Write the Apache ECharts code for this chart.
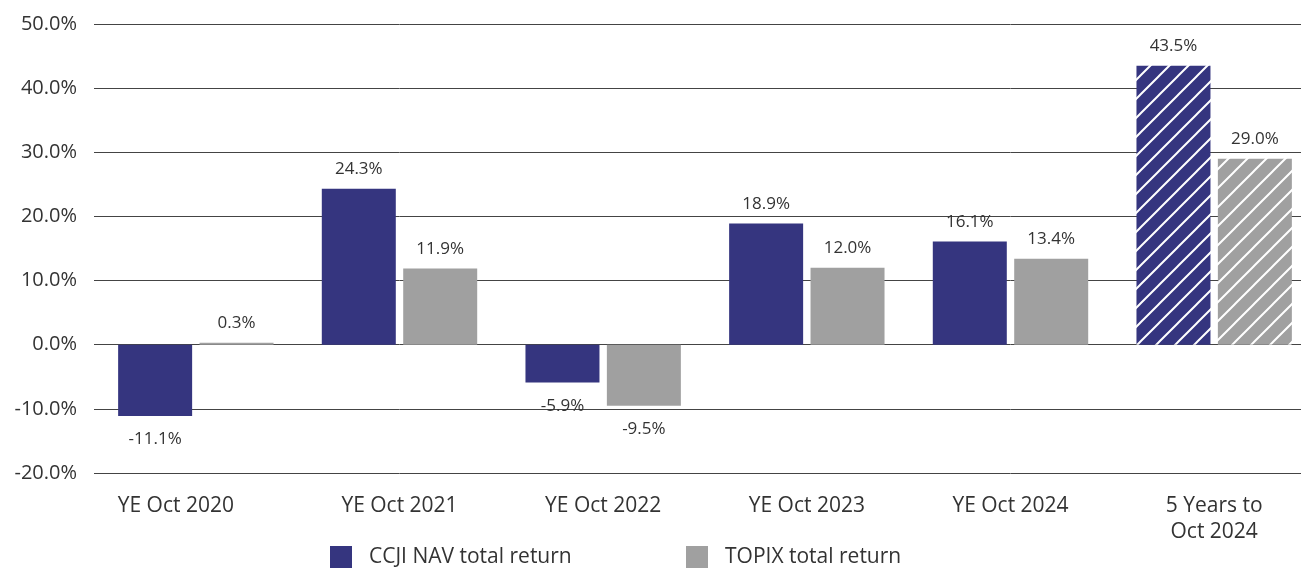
<!DOCTYPE html>
<html>
<head>
<meta charset="utf-8">
<script src="https://cdn.jsdelivr.net/npm/echarts@6/dist/echarts.min.js"></script>
<style>
  html, body { margin: 0; padding: 0; background: #fff; overflow: hidden; }
  /* plot runs past the right edge of the frame, as in the original */
  #chart { width: 1316px; height: 569px; }
</style>
</head>
<body>
<div id="chart"></div>
<script>
const categories = ['YE Oct 2020', 'YE Oct 2021', 'YE Oct 2022', 'YE Oct 2023', 'YE Oct 2024', '5 Years to\nOct 2024']
const navReturn = [-11.1, 24.3, -5.9, 18.9, 16.1, 43.5]
const topixReturn = [0.3, 11.9, -9.5, 12.0, 13.4, 29.0]
const seriesNames = ['CCJI NAV total return', 'TOPIX total return']

const NAVY = '#35357f'
const GREY = '#a0a0a0'
const FONT = '"Open Sans", "Noto Sans", sans-serif'

// diagonal white stripes for the 5 year bars
function hatch(base) {
  const s = 19
  const c = document.createElement('canvas')
  c.width = s
  c.height = s
  const ctx = c.getContext('2d')
  ctx.fillStyle = base
  ctx.fillRect(0, 0, s, s)
  ctx.strokeStyle = '#fff'
  ctx.lineWidth = 2
  ctx.beginPath()
  ctx.moveTo(-2, s + 2); ctx.lineTo(s + 2, -2)
  ctx.moveTo(-2, 2); ctx.lineTo(2, -2)
  ctx.moveTo(s - 2, s + 2); ctx.lineTo(s + 2, s - 2)
  ctx.stroke()
  return { image: c, repeat: 'repeat' }
}

function toData(values, base) {
  return values.map((v, i) => {
    const item = { value: v }
    if (i === values.length - 1) {
      item.itemStyle = { color: hatch(base) }
    }
    // negative bars get their label underneath
    if (v < 0) {
      item.label = { position: 'bottom', distance: 15 }
    }
    return item
  })
}

const chart = echarts.init(document.getElementById('chart'))

const labelStyle = {
  show: true,
  position: 'top',
  fontFamily: FONT,
  fontSize: 17,
  color: '#333',
  distance: 11,
  formatter: (e) => e.value.toFixed(1) + '%'
}

const legendText = { fontFamily: FONT, fontSize: 21, color: '#333', padding: [0, 0, 0, 12] }

const option = {
  animation: false,
  textStyle: { fontFamily: FONT },
  grid: {
    left: 94,
    right: 0,
    top: 24,
    bottom: 96
  },
  legend: [
    {
      left: 330,
      bottom: 1,
      padding: 0,
      itemWidth: 22,
      itemHeight: 22,
      icon: 'rect',
      textStyle: legendText,
      data: [{ name: seriesNames[0], itemStyle: { color: NAVY } }]
    },
    {
      left: 686,
      bottom: 1,
      padding: 0,
      itemWidth: 22,
      itemHeight: 22,
      icon: 'rect',
      textStyle: legendText,
      data: [{ name: seriesNames[1], itemStyle: { color: GREY } }]
    }
  ],
  xAxis: {
    type: 'category',
    data: categories.map((c, i) => {
      // first label sits a little left of its bars in the original
      if (i === 0) return { value: c, textStyle: { padding: [0, 40, 0, 0] } }
      return c
    }),
    axisLine: { show: false },
    axisTick: { show: false },
    axisLabel: {
      fontFamily: FONT,
      fontSize: 21,
      color: '#333',
      margin: 20,
      lineHeight: 26,
      interval: 0
    }
  },
  yAxis: {
    type: 'value',
    min: -20,
    max: 50,
    interval: 10,
    axisLine: { show: false },
    axisTick: { show: false },
    axisLabel: {
      fontFamily: FONT,
      fontSize: 20,
      color: '#333',
      margin: 17,
      formatter: (v) => v.toFixed(1) + '%'
    },
    splitLine: { lineStyle: { color: '#444', width: 1 } }
  },
  series: [
    {
      name: seriesNames[0],
      type: 'bar',
      data: toData(navReturn, NAVY),
      itemStyle: { color: NAVY },
      barWidth: 74,
      barGap: '10%',
      label: labelStyle
    },
    {
      name: seriesNames[1],
      type: 'bar',
      data: toData(topixReturn, GREY),
      itemStyle: { color: GREY },
      barWidth: 74,
      label: labelStyle
    }
  ]
}

chart.setOption(option)
</script>
</body>
</html>
